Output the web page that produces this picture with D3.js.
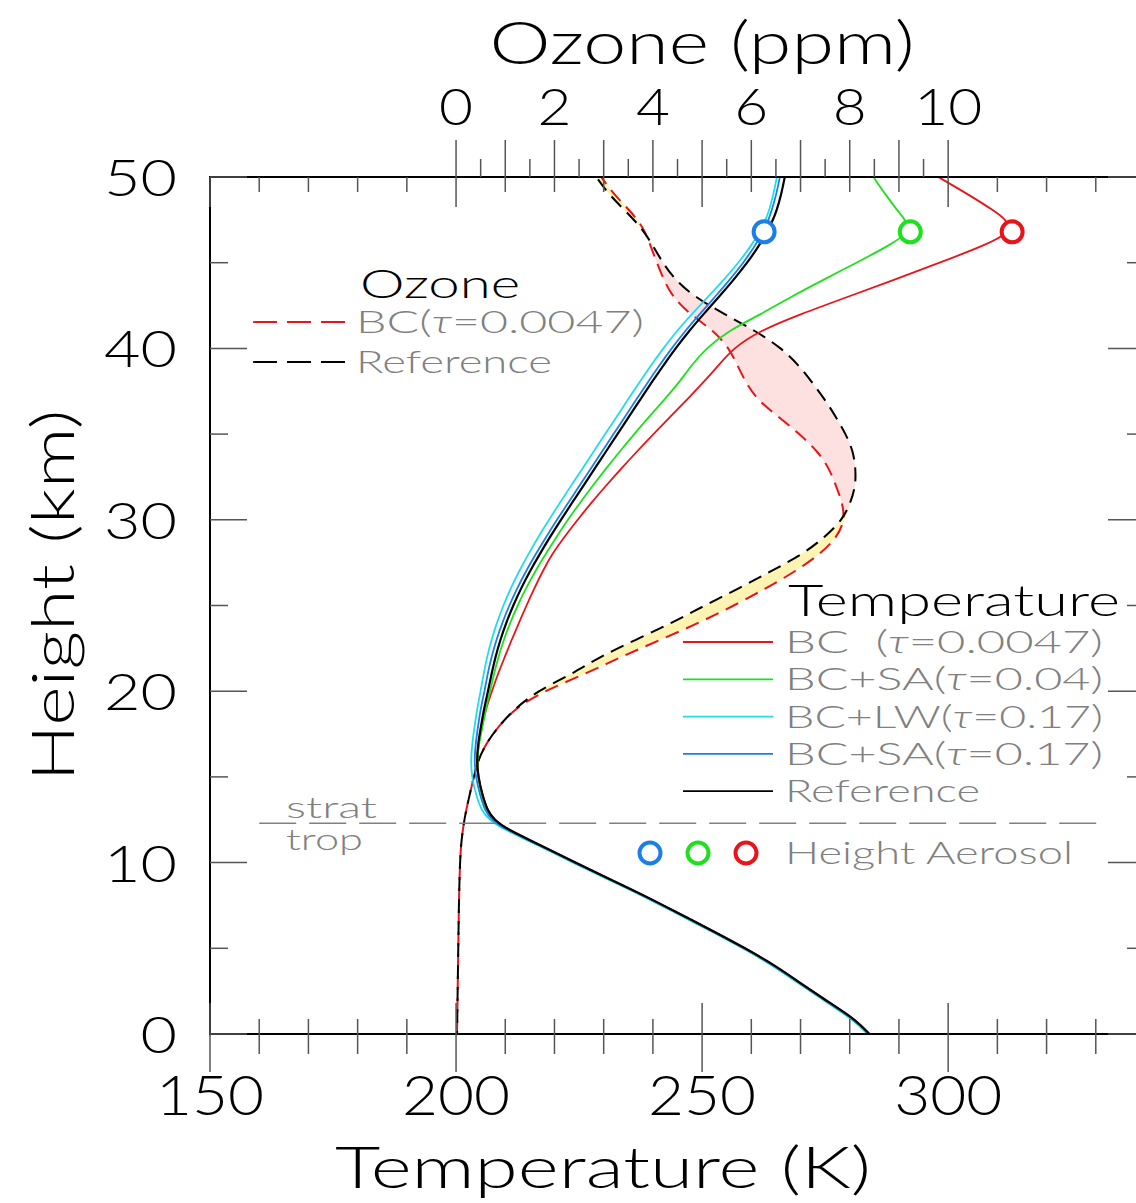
<!DOCTYPE html>
<html>
<head>
<meta charset="utf-8">
<script src="https://cdn.jsdelivr.net/npm/d3@7"></script>
<style>
body { margin: 0; background: #fff; }
text { font-family: Lato, "DejaVu Sans", sans-serif; font-weight: 300; white-space: pre; }
</style>
</head>
<body>
<div id="chart"></div>
<script>

// altitude grid for the temperature profiles (km)
var tempHeights = [0, 0.5, 1, 2, 3, 4, 5, 6, 7, 8, 9, 10, 11, 12, 12.5, 13, 14, 15, 16, 17, 18, 19, 20,
    21, 22, 23, 24, 25, 26, 27, 28, 29, 30, 31, 32, 33, 34, 35, 36, 37, 38, 39, 40,
    41, 42, 43, 44, 45, 46, 46.8, 47.5, 48, 49, 50];

var tempReference = [284.0, 282.3, 280.3, 275.0, 269.8, 264.8, 258.8, 252.3, 245.5, 238.8, 231.5, 224.2, 217.3, 210.0, 207.8, 206.4, 205.3, 204.5, 204.2, 204.5, 205.1, 205.7, 206.5,
    207.2, 208.0, 209.0, 210.2, 211.6, 213.2, 215.0, 217.0, 219.1, 221.3, 223.6, 225.9, 228.2, 230.5, 232.8, 235.1, 237.4, 239.7, 242.1, 244.6,
    247.3, 250.3, 253.4, 256.4, 259.2, 261.6, 263.2, 264.4, 265.1, 266.1, 266.8];

var tempBC = [284.0, 282.3, 280.3, 275.0, 269.8, 264.8, 258.8, 252.3, 245.5, 238.8, 231.5, 224.2, 217.3, 210.0, 207.8, 206.4, 205.3, 204.5, 204.2, 204.6, 205.3, 206.1, 207.3,
    208.5, 209.9, 211.3, 212.8, 214.3, 215.9, 217.6, 219.5, 222.0, 224.7, 227.5, 230.5, 233.6, 236.8, 240.1, 243.5, 246.9, 250.2, 253.3, 256.3,
    261.5, 270.0, 279.5, 289.0, 298.3, 307.3, 313.0, 311.8, 309.5, 304.0, 298.0];

var tempBCSA004 = [283.6, 281.9, 279.9, 274.6, 269.4, 264.4, 258.4, 251.9, 245.1, 238.4, 231.1, 223.8, 216.9, 209.6, 207.4, 206.1, 205.1, 204.4, 204.3, 204.7, 205.4, 206.1, 206.9,
    207.7, 208.6, 209.7, 211.0, 212.5, 214.2, 216.1, 218.2, 220.4, 222.7, 225.2, 227.8, 230.5, 233.3, 236.2, 239.2, 242.3, 245.3, 247.8, 250.8,
    255.2, 262.0, 268.0, 274.6, 281.4, 288.0, 292.3, 291.3, 289.8, 287.2, 284.8];

var tempBCLW017 = [283.6, 281.9, 279.9, 274.6, 269.4, 264.4, 258.4, 251.9, 245.1, 238.4, 231.1, 223.8, 216.8, 209.2, 206.8, 205.2, 204.0, 203.2, 203.0, 203.3, 203.8, 204.3, 205.0,
    205.6, 206.3, 207.2, 208.3, 209.6, 211.1, 212.8, 214.7, 216.7, 218.9, 221.1, 223.4, 225.7, 228.0, 230.3, 232.6, 234.9, 237.2, 239.6, 242.1,
    244.8, 247.9, 251.2, 254.4, 257.4, 260.0, 261.7, 262.9, 263.6, 264.5, 265.2];

var tempBCSA017 = [283.8, 282.1, 280.1, 274.8, 269.6, 264.6, 258.6, 252.1, 245.3, 238.6, 231.3, 224.0, 217.0, 209.6, 207.3, 205.9, 204.8, 204.0, 203.7, 204.0, 204.5, 205.0, 205.8,
    206.4, 207.2, 208.2, 209.4, 210.8, 212.4, 214.2, 216.2, 218.3, 220.5, 222.8, 225.1, 227.4, 229.7, 232.0, 234.3, 236.6, 238.9, 241.3, 243.8,
    246.5, 249.5, 252.6, 255.6, 258.4, 260.8, 262.4, 263.5, 264.1, 265.1, 265.8];

// altitude grid for the ozone profiles (km)
var ozoneHeights = [0, 2, 4, 6, 8, 10, 11, 12, 13, 14, 15, 16, 17, 18, 19, 20, 21, 22, 23, 24, 25,
    26, 27, 28, 29, 30, 31, 32, 33, 34, 35, 36, 37, 38, 39, 40, 41, 42, 43, 44, 45, 46, 47, 48, 49, 50];

var ozoneReference = [0.02, 0.03, 0.04, 0.05, 0.06, 0.08, 0.10, 0.14, 0.20, 0.28, 0.36, 0.45, 0.62, 0.88, 1.20, 1.65, 2.35, 2.92, 3.65, 4.40, 5.05,
    5.75, 6.40, 7.05, 7.50, 7.85, 8.02, 8.12, 8.12, 8.07, 7.92, 7.72, 7.50, 7.24, 6.97, 6.62, 6.10, 5.45, 4.85, 4.45, 4.20, 4.00, 3.78, 3.45, 3.10, 2.85];

var ozoneBC = [0.02, 0.03, 0.04, 0.05, 0.06, 0.08, 0.10, 0.14, 0.20, 0.28, 0.36, 0.45, 0.62, 0.88, 1.20, 1.78, 2.62, 3.35, 4.15, 4.95, 5.65,
    6.30, 6.90, 7.40, 7.75, 7.90, 7.85, 7.72, 7.58, 7.35, 6.98, 6.56, 6.12, 5.89, 5.72, 5.55, 5.25, 4.75, 4.40, 4.22, 4.08, 3.95, 3.82, 3.55, 3.20, 2.95];

// height of the aerosol layer and the temperature there (blue, green, red)
var aerosolHeight = 46.8;
var aerosolTemps = [262.6, 292.3, 313.0];
var aerosolColors = ["#1a7fe6", "#1ee01e", "#e8141a"];

var tropopauseHeight = 12.3;

var tempTickLabels = [150, 200, 250, 300];
var ozoneTickLabels = [0, 2, 4, 6, 8, 10];
var heightTickLabels = [0, 10, 20, 30, 40, 50];

var tempSeries = [
    {name: "BC  (τ=0.0047)", values: tempBC, color: "#e8141a"},
    {name: "BC+SA(τ=0.04)", values: tempBCSA004, color: "#1ee01e"},
    {name: "BC+LW(τ=0.17)", values: tempBCLW017, color: "#22dcec"},
    {name: "BC+SA(τ=0.17)", values: tempBCSA017, color: "#1a7fe6"},
    {name: "Reference", values: tempReference, color: "#000000"}
];

var ozoneSeries = [
    {name: "BC(τ=0.0047)", values: ozoneBC, color: "#e8141a"},
    {name: "Reference", values: ozoneReference, color: "#000000"}
];

var margin = {top: 177, left: 210},
    width = 935,
    height = 857;

var x = d3.scaleLinear().domain([150, 340]).range([0, width]);
// 0 ppm sits on 200 K and 10 ppm on 300 K
var xOzone = d3.scaleLinear().domain([0, 10]).range([x(200), x(300)]);
var y = d3.scaleLinear().domain([0, 50]).range([height, 0]);

var root = d3.select("#chart").append("svg")
    .attr("width", 1136)
    .attr("height", 1203);

var svg = root.append("g")
    .attr("transform", "translate(" + margin.left + "," + margin.top + ")");

var gray = "#808080";

// Returns the path of a vertical profile.
function profile(values, heights, scale) {
    return d3.line()
        .x(function(d, i) { return scale(values[i]); })
        .y(function(d, i) { return y(heights[i]); })
        .curve(d3.curveBasis)(heights);
}

// Writes a label, with the greek tau in italics.
function label(sel, str) {
    var parts = str.split("τ");
    sel.append("tspan").text(parts[0]);
    if (parts.length > 1) {
        sel.append("tspan").style("font-style", "italic").text("τ");
        sel.append("tspan").text(parts[1]);
    }
    return sel;
}

// fills between the two ozone profiles
var fillArea = function(lowValues, highValues) {
    return d3.area()
        .y(function(d, i) { return y(ozoneHeights[i]); })
        .x0(function(d, i) { return xOzone(lowValues[i]); })
        .x1(function(d, i) { return xOzone(Math.max(lowValues[i], highValues[i])); })
        .curve(d3.curveBasis)(ozoneHeights);
};
svg.append("path")
    .attr("d", fillArea(ozoneBC, ozoneReference))
    .attr("fill", "#fde1e1");
svg.append("path")
    .attr("d", fillArea(ozoneReference, ozoneBC))
    .attr("fill", "#fdf4b4");

// ozone profiles, dashed
svg.append("path")
    .attr("d", profile(ozoneBC, ozoneHeights, xOzone))
    .attr("fill", "none")
    .attr("stroke", "#e8141a")
    .attr("stroke-width", 2)
    .attr("stroke-dasharray", "14,8");
svg.append("path")
    .attr("d", profile(ozoneReference, ozoneHeights, xOzone))
    .attr("fill", "none")
    .attr("stroke", "#000")
    .attr("stroke-width", 2)
    .attr("stroke-dasharray", "14,8")
    .attr("stroke-dashoffset", 11);

// temperature profiles
svg.selectAll(".temp")
    .data(tempSeries)
    .enter().append("path")
    .attr("class", "temp")
    .attr("d", function(s) { return profile(s.values, tempHeights, x); })
    .attr("fill", "none")
    .attr("stroke", function(s) { return s.color; })
    .attr("stroke-width", function(s) { return s.name === "Reference" ? 2.2 : 1.8; });

// aerosol height markers
svg.selectAll(".aerosol")
    .data(aerosolTemps)
    .enter().append("circle")
    .attr("class", "aerosol")
    .attr("cx", function(d) { return x(d); })
    .attr("cy", y(aerosolHeight))
    .attr("r", 10.5)
    .attr("fill", "#fff")
    .attr("stroke", function(d, i) { return aerosolColors[i]; })
    .attr("stroke-width", 4);

// strat / trop boundary
svg.append("line")
    .attr("x1", x(160)).attr("x2", x(331))
    .attr("y1", y(tropopauseHeight)).attr("y2", y(tropopauseHeight))
    .attr("stroke", gray)
    .attr("stroke-width", 1.5)
    .attr("stroke-dasharray", "37,13");

// frame
svg.append("rect")
    .attr("width", width).attr("height", height)
    .attr("fill", "none")
    .attr("stroke", "#000")
    .attr("stroke-width", 2);

var tickColor = "#555";

// temperature ticks, bottom (crossing) and top (inside)
var tempMinor = d3.range(150, 341, 10);
svg.selectAll(".tbot")
    .data(tempMinor)
    .enter().append("line")
    .attr("x1", function(d) { return x(d); })
    .attr("x2", function(d) { return x(d); })
    .attr("y1", function(d) { return d % 50 === 0 ? height - 31 : height - 15; })
    .attr("y2", function(d) { return d % 50 === 0 ? height + 38 : height + 20; })
    .attr("stroke", tickColor).attr("stroke-width", 1.5);
svg.selectAll(".ttop")
    .data(tempMinor)
    .enter().append("line")
    .attr("x1", function(d) { return x(d); })
    .attr("x2", function(d) { return x(d); })
    .attr("y1", 0)
    .attr("y2", function(d) { return d % 50 === 0 ? 30 : 15; })
    .attr("stroke", tickColor).attr("stroke-width", 1.5);

// ozone ticks on top, outside
var ozoneMinor = d3.range(0, 10.01, 0.5);
svg.selectAll(".otop")
    .data(ozoneMinor)
    .enter().append("line")
    .attr("x1", function(d) { return xOzone(d); })
    .attr("x2", function(d) { return xOzone(d); })
    .attr("y1", 0)
    .attr("y2", function(d) { return d % 1 === 0 ? -37 : -18; })
    .attr("stroke", tickColor).attr("stroke-width", 1.5);

// height ticks left and right, inside
var heightMinor = d3.range(0, 51, 5);
svg.selectAll(".hleft")
    .data(heightMinor)
    .enter().append("line")
    .attr("x1", 0)
    .attr("x2", function(d) { return d % 10 === 0 ? 37 : 18; })
    .attr("y1", function(d) { return y(d); })
    .attr("y2", function(d) { return y(d); })
    .attr("stroke", tickColor).attr("stroke-width", 1.5);
svg.selectAll(".hright")
    .data(heightMinor)
    .enter().append("line")
    .attr("x1", width)
    .attr("x2", function(d) { return d % 10 === 0 ? width - 37 : width - 18; })
    .attr("y1", function(d) { return y(d); })
    .attr("y2", function(d) { return y(d); })
    .attr("stroke", tickColor).attr("stroke-width", 1.5);

// tick labels
svg.selectAll(".tlab")
    .data(tempTickLabels)
    .enter().append("text")
    .attr("x", function(d) { return x(d); })
    .attr("y", height + 81)
    .attr("text-anchor", "middle")
    .attr("font-size", 55)
    .attr("textLength", function(d) { return String(d).length * 36; })
    .attr("lengthAdjust", "spacingAndGlyphs")
    .text(function(d) { return d; });

svg.selectAll(".olab")
    .data(ozoneTickLabels)
    .enter().append("text")
    .attr("x", function(d) { return xOzone(d); })
    .attr("y", -52)
    .attr("text-anchor", "middle")
    .attr("font-size", 51)
    .attr("textLength", function(d) { return String(d).length * 34; })
    .attr("lengthAdjust", "spacingAndGlyphs")
    .text(function(d) { return d; });

svg.selectAll(".hlab")
    .data(heightTickLabels)
    .enter().append("text")
    .attr("x", -33)
    .attr("y", function(d) { return y(d) + 19; })
    .attr("text-anchor", "end")
    .attr("font-size", 52)
    .attr("textLength", function(d) { return String(d).length * 36.5; })
    .attr("lengthAdjust", "spacingAndGlyphs")
    .text(function(d) { return d; });

// axis titles
svg.append("text")
    .attr("x", xOzone(5)).attr("y", -113)
    .attr("text-anchor", "middle")
    .attr("font-size", 60)
    .attr("textLength", 425)
    .attr("lengthAdjust", "spacingAndGlyphs")
    .text("Ozone (ppm)");

svg.append("text")
    .attr("x", 393).attr("y", height + 154)
    .attr("text-anchor", "middle")
    .attr("font-size", 57)
    .attr("textLength", 536)
    .attr("lengthAdjust", "spacingAndGlyphs")
    .text("Temperature (K)");

svg.append("text")
    .attr("transform", "translate(-136," + (y(25) - 10) + ") rotate(-90)")
    .attr("text-anchor", "middle")
    .attr("font-size", 60)
    .attr("textLength", 372)
    .attr("lengthAdjust", "spacingAndGlyphs")
    .text("Height (km)");

// ozone legend
root.append("text")
    .attr("x", 360).attr("y", 298)
    .attr("font-size", 39)
    .attr("textLength", 160)
    .attr("lengthAdjust", "spacingAndGlyphs")
    .text("Ozone");

ozoneSeries.forEach(function(s, i) {
    var yy = 322 + i * 40;
    root.append("line")
        .attr("x1", 253).attr("x2", 345)
        .attr("y1", yy).attr("y2", yy)
        .attr("stroke", s.color)
        .attr("stroke-width", 1.8)
        .attr("stroke-dasharray", "24,10");
    label(root.append("text")
        .attr("x", 356).attr("y", yy + 11)
        .attr("font-size", 32)
        .attr("fill", gray)
        .attr("textLength", s.name === "Reference" ? 196 : 288)
        .attr("lengthAdjust", "spacingAndGlyphs"), s.name);
});

// temperature legend
root.append("text")
    .attr("x", 788).attr("y", 616)
    .attr("font-size", 44)
    .attr("textLength", 332)
    .attr("lengthAdjust", "spacingAndGlyphs")
    .text("Temperature");

tempSeries.forEach(function(s, i) {
    var yy = 642 + i * 37.3;
    root.append("line")
        .attr("x1", 683).attr("x2", 773)
        .attr("y1", yy).attr("y2", yy)
        .attr("stroke", s.color)
        .attr("stroke-width", 1.8);
    label(root.append("text")
        .attr("x", 785).attr("y", yy + 11)
        .attr("font-size", 31)
        .attr("fill", gray)
        .attr("textLength", s.name === "Reference" ? 195 : 318)
        .attr("lengthAdjust", "spacingAndGlyphs"), s.name);
});

aerosolColors.forEach(function(c, i) {
    root.append("circle")
        .attr("cx", 650 + i * 48).attr("cy", 853)
        .attr("r", 10.5)
        .attr("fill", "none")
        .attr("stroke", c)
        .attr("stroke-width", 4);
});
root.append("text")
    .attr("x", 785).attr("y", 864)
    .attr("font-size", 31)
    .attr("fill", gray)
    .attr("textLength", 288)
    .attr("lengthAdjust", "spacingAndGlyphs")
    .text("Height Aerosol");

root.append("text")
    .attr("x", 286).attr("y", 818)
    .attr("font-size", 30)
    .attr("fill", gray)
    .attr("textLength", 91)
    .attr("lengthAdjust", "spacingAndGlyphs")
    .text("strat");
root.append("text")
    .attr("x", 286).attr("y", 850)
    .attr("font-size", 30)
    .attr("fill", gray)
    .attr("textLength", 77)
    .attr("lengthAdjust", "spacingAndGlyphs")
    .text("trop");

</script>
</body>
</html>
